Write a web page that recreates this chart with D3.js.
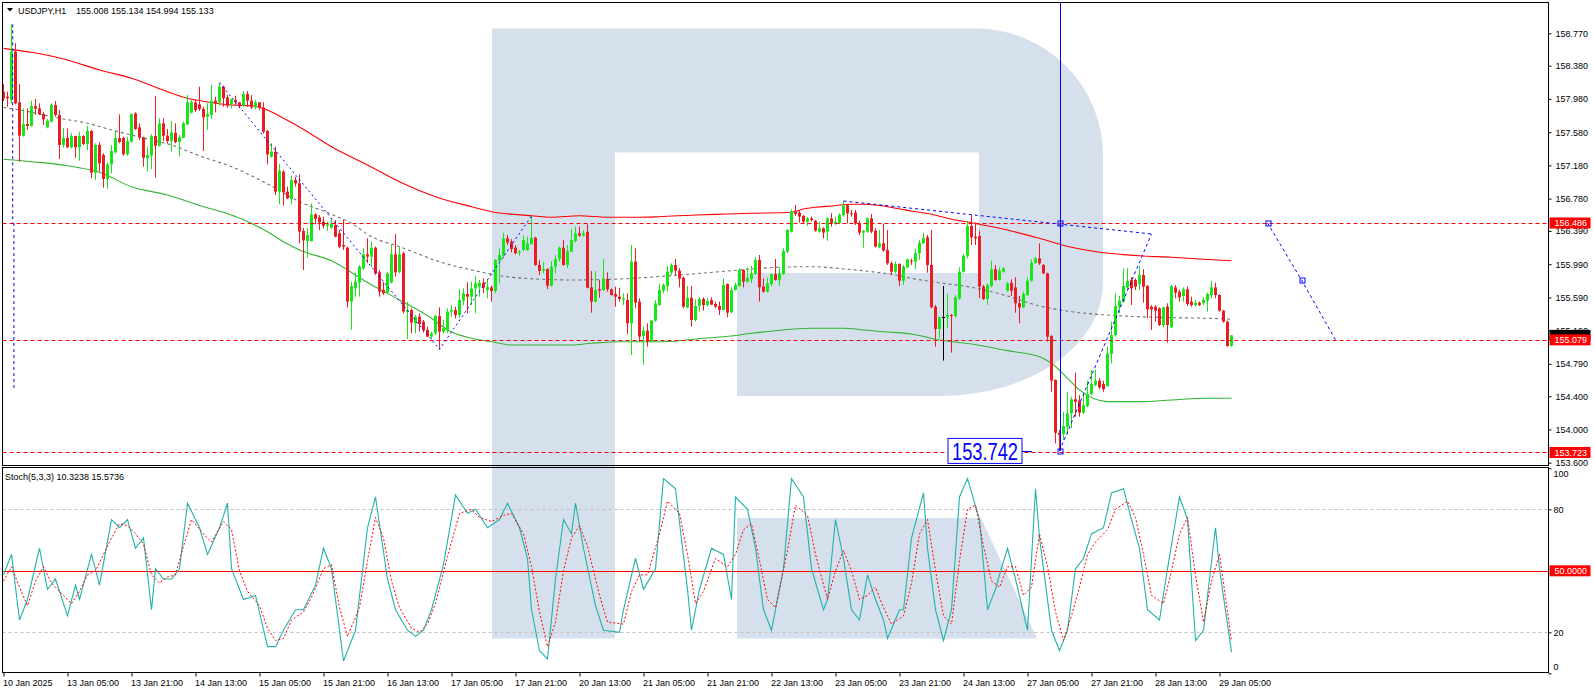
<!DOCTYPE html>
<html><head><meta charset="utf-8">
<script src="https://cdn.jsdelivr.net/npm/d3@7/dist/d3.min.js"></script>
<style>body{margin:0;background:#fff}svg{display:block}text{font-family:"Liberation Sans",Arial,sans-serif;font-size:9px;fill:#000}</style>
</head><body><svg id="c" width="1594" height="694"></svg>
<script>
const symbolTitle = "USDJPY,H1";
const lastBar = [155.008, 155.134, 154.994, 155.133];
const opens = [158.067,158.007,157.967,158.549,157.939,157.537,157.678,157.654,157.894,157.866,157.798,157.638,157.706,157.907,157.786,157.425,157.509,157.397,157.533,157.397,157.533,157.437,157.594,157.092,157.425,157.305,157.016,157.192,157.337,157.509,157.509,157.313,157.465,157.806,157.638,157.517,157.264,157.297,157.533,157.417,157.686,157.537,157.473,157.573,157.461,157.513,157.674,157.814,157.939,157.915,157.858,157.766,157.786,157.959,157.939,158.127,157.999,157.919,157.967,157.939,157.898,158.039,157.959,157.878,157.939,157.878,157.594,157.285,157.345,156.863,157.104,156.863,156.775,157.004,156.963,156.390,156.269,156.269,156.590,156.554,156.502,156.454,156.430,156.462,156.362,156.221,156.189,155.539,155.700,155.768,155.940,156.109,156.081,156.189,155.892,155.680,155.648,155.768,156.109,155.900,156.121,155.419,155.439,155.278,155.359,155.298,155.198,155.118,155.158,155.367,155.178,155.198,155.418,155.438,155.378,155.551,155.631,155.599,155.699,155.719,155.767,155.679,155.711,155.667,156.028,156.093,156.301,156.261,156.189,156.133,156.161,156.161,156.233,156.309,155.980,155.912,155.932,155.731,155.960,156.052,156.189,155.980,156.141,156.269,156.361,156.333,156.381,155.711,155.539,155.691,155.679,155.812,155.687,155.631,155.599,155.559,155.559,155.278,156.021,155.539,155.126,155.190,155.058,155.311,155.499,155.672,155.728,155.888,155.981,155.912,155.828,155.467,155.587,155.319,155.487,155.571,155.499,155.559,155.511,155.487,155.439,155.752,155.411,155.680,155.728,155.921,155.780,155.812,155.872,156.041,155.720,155.660,155.752,155.872,155.800,155.872,156.141,156.382,156.623,156.611,156.571,156.502,156.542,156.514,156.382,156.422,156.382,156.542,156.474,156.490,156.579,156.699,156.603,156.611,156.482,156.370,156.382,156.542,156.394,156.193,156.242,156.161,156.001,155.900,155.993,155.792,155.953,156.033,156.021,156.121,156.242,156.314,155.981,155.479,155.210,155.351,155.351,155.378,155.366,155.579,155.900,156.092,156.450,156.321,156.329,155.719,155.571,155.727,155.928,155.800,155.900,155.671,155.767,155.711,155.519,155.470,155.619,155.791,156.008,156.060,155.980,155.880,155.125,154.596,153.961,153.946,154.034,154.194,154.363,154.347,154.202,154.283,154.427,154.535,154.588,154.547,154.523,154.909,155.137,155.478,155.539,155.711,155.799,155.799,155.751,155.860,155.727,155.478,155.478,155.458,155.258,155.478,155.230,155.711,155.659,155.607,155.687,155.539,155.499,155.527,155.519,155.551,155.619,155.711,155.619,155.430,155.298,155.008];
const highs = [158.159,158.067,158.878,158.649,158.159,157.866,157.866,157.959,157.979,157.927,157.826,157.738,157.927,157.955,157.846,157.626,157.626,157.565,157.537,157.585,157.545,157.658,157.606,157.445,157.457,157.325,157.216,157.425,157.606,157.794,157.525,157.525,157.806,157.818,157.686,157.525,157.405,157.557,158.015,157.746,157.746,157.618,157.714,157.686,157.545,157.706,158.027,157.967,157.967,158.127,157.886,157.927,158.147,158.007,158.175,158.139,158.027,157.987,158.019,157.939,158.075,158.075,158.027,157.967,157.939,157.939,157.606,157.445,157.405,157.196,157.124,156.923,157.056,157.044,157.072,156.422,156.422,156.723,156.602,156.582,156.562,156.502,156.542,156.522,156.402,156.522,156.201,155.780,155.888,155.981,156.181,156.302,156.261,156.201,155.920,155.780,155.900,156.221,156.354,156.201,156.141,155.539,155.459,155.379,155.399,155.318,155.238,155.178,155.379,155.471,155.318,155.459,155.499,155.478,155.691,155.699,155.771,155.779,155.848,155.800,155.820,155.800,155.731,156.052,156.181,156.369,156.341,156.293,156.221,156.161,156.333,156.321,156.570,156.321,156.040,156.020,155.940,156.028,156.101,156.201,156.281,156.221,156.413,156.442,156.442,156.401,156.470,155.908,155.908,155.800,156.052,155.892,155.699,155.719,155.707,155.639,155.639,156.221,156.181,155.579,155.238,155.278,155.319,155.559,155.752,155.760,155.969,156.001,156.053,155.941,155.840,155.728,155.728,155.567,155.591,155.591,155.579,155.591,155.539,155.539,155.820,155.760,155.712,155.768,155.941,155.929,155.953,155.969,156.073,156.101,155.820,155.828,155.880,156.053,155.953,156.181,156.410,156.651,156.703,156.635,156.583,156.555,156.563,156.522,156.502,156.434,156.555,156.603,156.563,156.603,156.751,156.715,156.643,156.643,156.514,156.402,156.555,156.595,156.422,156.402,156.474,156.402,156.021,156.021,156.001,155.981,156.057,156.057,156.181,156.282,156.370,156.342,156.402,155.499,155.359,155.728,155.632,155.390,155.619,155.952,156.113,156.502,156.582,156.490,156.393,155.739,155.759,156.032,155.980,155.952,155.952,155.779,155.808,155.832,155.607,155.659,155.832,156.048,156.080,156.241,155.992,155.888,155.137,154.604,153.994,154.214,154.455,154.395,154.684,154.415,154.435,154.588,154.716,154.716,154.616,154.588,154.997,155.298,155.639,155.607,155.940,155.940,155.832,155.820,155.968,155.928,155.739,155.498,155.498,155.470,155.478,155.519,155.739,155.739,155.687,155.711,155.719,155.599,155.559,155.539,155.591,155.647,155.791,155.767,155.631,155.438,155.310,155.134];
const lows = [157.955,157.886,157.927,157.915,157.224,157.525,157.606,157.646,157.786,157.786,157.666,157.626,157.698,157.766,157.256,157.393,157.393,157.385,157.272,157.236,157.425,157.365,157.024,157.004,157.104,156.911,156.895,157.084,157.325,157.445,157.297,157.297,157.457,157.606,157.485,157.164,157.104,157.136,157.032,157.405,157.473,157.445,157.345,157.445,157.285,157.505,157.666,157.806,157.826,157.834,157.353,157.606,157.738,157.818,157.898,157.886,157.874,157.866,157.907,157.866,157.886,157.886,157.858,157.858,157.846,157.565,157.192,157.272,156.823,156.711,156.695,156.775,156.711,156.923,156.241,155.920,156.069,156.261,156.470,156.402,156.422,156.390,156.418,156.314,156.181,156.161,155.471,155.198,155.599,155.599,155.920,156.001,155.960,155.860,155.599,155.619,155.631,155.760,155.840,155.880,155.399,155.090,155.158,155.158,155.178,155.166,155.110,155.086,155.138,154.965,155.158,155.158,155.358,155.338,155.346,155.499,155.398,155.499,155.398,155.599,155.639,155.579,155.539,155.639,155.759,156.060,156.221,156.133,156.108,156.092,156.149,156.149,156.221,155.972,155.860,155.880,155.691,155.719,155.880,156.020,155.972,155.940,156.133,156.253,156.321,156.321,155.699,155.406,155.531,155.587,155.667,155.659,155.611,155.478,155.539,155.499,155.145,154.897,155.459,155.058,154.777,154.998,155.050,155.299,155.487,155.640,155.660,155.860,155.860,155.712,155.459,155.459,155.238,155.299,155.419,155.431,155.487,155.499,155.459,155.379,155.431,155.351,155.399,155.672,155.720,155.712,155.768,155.760,155.860,155.539,155.648,155.648,155.728,155.792,155.728,155.860,156.121,156.370,156.571,156.490,156.482,156.450,156.502,156.382,156.370,156.302,156.270,156.442,156.462,156.474,156.563,156.482,156.563,156.462,156.342,156.189,156.370,156.362,156.193,156.181,156.141,155.981,155.860,155.880,155.728,155.740,155.941,155.981,155.929,156.041,156.234,155.888,155.459,154.998,155.098,154.829,155.218,154.925,155.350,155.559,155.888,156.060,156.221,156.221,155.579,155.559,155.499,155.711,155.792,155.792,155.888,155.659,155.607,155.406,155.278,155.458,155.607,155.779,155.992,155.980,155.872,155.057,154.455,153.833,153.742,153.873,153.933,154.014,154.154,154.154,154.186,154.267,154.415,154.523,154.483,154.455,154.515,154.796,155.117,155.398,155.527,155.687,155.499,155.679,155.679,155.527,155.338,155.198,155.298,155.246,155.230,155.045,155.218,155.579,155.539,155.539,155.486,155.478,155.486,155.486,155.499,155.418,155.579,155.579,155.418,155.286,154.997,154.994];
const closes = [157.987,157.987,158.549,157.927,157.537,157.678,157.654,157.894,157.862,157.798,157.734,157.718,157.907,157.786,157.425,157.509,157.397,157.533,157.397,157.533,157.437,157.594,157.092,157.425,157.204,157.016,157.192,157.353,157.509,157.461,157.313,157.473,157.798,157.618,157.517,157.272,157.305,157.533,157.417,157.686,157.537,157.473,157.577,157.461,157.517,157.686,157.939,157.939,157.846,157.858,157.758,157.798,157.959,157.927,158.127,157.987,157.898,157.975,157.939,157.898,158.039,157.959,157.878,157.939,157.878,157.585,157.313,157.345,156.863,157.116,156.855,156.783,157.004,156.963,156.382,156.277,156.341,156.590,156.534,156.494,156.454,156.470,156.482,156.322,156.201,156.201,155.539,155.728,155.780,155.960,156.109,156.081,156.189,155.880,155.660,155.640,155.880,156.109,155.892,156.109,155.419,155.439,155.286,155.359,155.270,155.198,155.118,155.158,155.367,155.178,155.218,155.419,155.438,155.378,155.559,155.639,155.599,155.699,155.759,155.767,155.707,155.719,155.667,156.040,156.101,156.301,156.253,156.173,156.121,156.141,156.281,156.241,156.309,155.980,155.908,155.932,155.731,155.960,156.052,156.189,155.980,156.149,156.281,156.361,156.333,156.361,155.707,155.539,155.679,155.675,155.820,155.687,155.619,155.599,155.571,155.579,155.278,156.021,155.527,155.118,155.190,155.058,155.311,155.519,155.680,155.740,155.900,155.981,155.912,155.816,155.479,155.587,155.319,155.487,155.571,155.499,155.547,155.503,155.479,155.439,155.740,155.407,155.680,155.740,155.921,155.780,155.828,155.880,156.041,155.712,155.660,155.760,155.872,155.800,155.880,156.149,156.402,156.623,156.595,156.563,156.502,156.542,156.522,156.394,156.422,156.370,156.542,156.482,156.502,156.583,156.699,156.603,156.595,156.482,156.370,156.394,156.542,156.382,156.201,156.242,156.153,156.001,155.900,155.993,155.792,155.961,156.049,156.021,156.121,156.250,156.302,155.981,155.471,155.210,155.351,155.351,155.379,155.366,155.591,155.900,156.092,156.450,156.313,156.301,155.719,155.571,155.739,155.928,155.800,155.912,155.940,155.759,155.671,155.519,155.470,155.631,155.791,156.008,156.060,156.000,155.880,155.117,154.588,153.961,153.933,154.042,154.194,154.363,154.335,154.202,154.295,154.427,154.547,154.588,154.507,154.483,154.917,155.137,155.486,155.551,155.727,155.791,155.699,155.719,155.860,155.719,155.446,155.446,155.430,155.258,155.470,155.258,155.727,155.647,155.591,155.687,155.511,155.499,155.527,155.499,155.559,155.631,155.711,155.619,155.430,155.298,155.005,155.133];

const redMA = [[0,158.589],[7,158.541],[16,158.449],[24,158.328],[32,158.228],[41,158.067],[46,157.987],[51,157.943],[57,157.907],[62,157.898],[66,157.847],[70,157.747],[74,157.642],[82,157.405],[91,157.184],[99,156.983],[108,156.803],[117,156.682],[122,156.622],[132,156.574],[137,156.555],[144,156.574],[151,156.555],[159,156.555],[164,156.562],[173,156.582],[181,156.594],[187,156.603],[197,156.615],[200,156.655],[203,156.675],[207,156.691],[212,156.711],[215,156.711],[220,156.691],[223,156.663],[227,156.631],[232,156.591],[237,156.531],[242,156.490],[251,156.402],[259,156.302],[267,156.193],[274,156.133],[284,156.092],[292,156.073],[300,156.049],[307,156.032]];
const greenMA = [[0,157.253],[7,157.224],[16,157.176],[24,157.097],[32,156.923],[41,156.823],[49,156.697],[57,156.582],[62,156.482],[66,156.381],[70,156.261],[74,156.161],[82,156.031],[91,155.770],[99,155.559],[107,155.339],[111,155.198],[117,155.098],[122,155.057],[127,155.017],[142,155.017],[147,155.038],[154,155.057],[165,155.057],[175,155.098],[182,155.125],[187,155.158],[193,155.189],[202,155.218],[210,155.218],[215,155.198],[220,155.177],[227,155.150],[234,155.077],[242,155.029],[251,154.949],[259,154.876],[262,154.797],[266,154.616],[269,154.476],[276,154.335],[284,154.335],[292,154.355],[301,154.376],[307,154.376]];
const grayMA = [[0,157.877],[4,157.847],[14,157.747],[21,157.686],[28,157.594],[37,157.485],[42,157.425],[49,157.295],[57,157.164],[66,156.956],[74,156.743],[82,156.591],[87,156.482],[92,156.321],[99,156.201],[109,156.020],[121,155.880],[124,155.852],[133,155.812],[142,155.800],[154,155.812],[169,155.860],[182,155.912],[194,155.953],[202,155.960],[211,155.929],[217,155.900],[223,155.860],[227,155.820],[235,155.760],[242,155.712],[251,155.607],[259,155.487],[267,155.418],[276,155.378],[284,155.358],[292,155.346],[301,155.339],[307,155.327]];

const stochK = [[0,48],[2,58],[4,26],[6,36],[9,61],[11,41],[13,46],[16,28],[18,43],[19,36],[22,58],[24,43],[27,75],[29,71],[31,75],[33,61],[35,66],[37,31],[38,51],[40,46],[42,46],[44,51],[46,83],[49,71],[51,58],[54,71],[56,83],[57,51],[60,36],[63,38],[66,13],[68,13],[70,21],[73,31],[75,31],[78,43],[80,61],[82,51],[85,6],[88,21],[91,71],[93,86],[96,46],[98,31],[101,21],[103,18],[105,21],[107,31],[110,53],[113,87],[116,78],[118,80],[121,71],[124,75],[126,83],[129,71],[131,56],[132,31],[134,11],[136,7],[138,46],[140,75],[142,68],[143,83],[145,61],[148,33],[150,21],[154,20],[155,31],[158,56],[160,41],[163,51],[165,95],[168,90],[171,41],[172,21],[174,41],[177,61],[180,58],[182,36],[183,86],[186,80],[188,61],[190,31],[192,21],[195,51],[197,95],[200,86],[202,51],[205,31],[206,36],[208,75],[210,56],[212,31],[214,26],[216,48],[218,36],[220,26],[221,17],[224,31],[225,31],[227,66],[230,88],[231,61],[233,31],[235,16],[237,31],[239,86],[241,95],[244,75],[246,31],[248,41],[249,48],[251,61],[253,46],[256,21],[258,90],[259,66],[262,21],[264,11],[266,21],[268,51],[270,56],[272,68],[275,71],[277,88],[280,90],[282,75],[284,61],[286,31],[289,26],[291,51],[294,86],[296,75],[298,16],[300,21],[303,71],[304,51],[307,10.3238]];
const stochD = [[0,45],[2,52],[4,42],[6,33],[8,45],[10,52],[12,44],[14,40],[17,34],[19,40],[21,48],[23,50],[25,58],[27,66],[29,73],[31,72],[33,68],[35,63],[37,48],[39,44],[41,47],[43,48],[45,62],[47,75],[50,68],[52,64],[55,74],[57,70],[59,50],[61,40],[64,33],[66,22],[68,16],[70,17],[72,26],[75,30],[77,37],[80,51],[82,53],[84,32],[86,18],[89,32],[91,55],[93,76],[95,66],[97,45],[99,32],[102,22],[104,20],[106,24],[108,34],[111,57],[114,78],[117,80],[119,76],[122,74],[125,77],[127,78],[130,68],[132,52],[134,30],[136,13],[138,25],[140,50],[142,66],[144,72],[146,62],[149,38],[151,25],[155,24],[157,40],[159,48],[161,48],[164,68],[166,84],[169,78],[171,58],[173,34],[175,40],[178,56],[181,52],[183,58],[185,70],[187,73],[189,55],[191,36],[193,32],[196,60],[198,82],[201,77],[203,58],[206,36],[208,50],[210,60],[212,50],[214,36],[216,38],[218,42],[220,32],[222,24],[225,28],[227,44],[229,68],[231,75],[233,50],[235,28],[237,24],[239,55],[241,80],[243,82],[245,62],[247,45],[249,42],[251,52],[253,52],[255,38],[257,42],[259,68],[261,52],[263,30],[265,16],[267,28],[269,42],[271,58],[273,64],[276,70],[278,80],[281,84],[283,76],[285,58],[287,38],[290,34],[292,50],[294,68],[296,76],[298,48],[300,25],[302,45],[304,58],[306,30],[307,15.5736]];

const priceTicks = [158.770,158.380,157.980,157.580,157.180,156.780,156.390,155.990,155.590,155.190,154.790,154.400,154.000,153.600];
const stochTicks = [100,80,20,0];
const timeTickIdx = [0,16,32,48,64,80,96,112,128,144,160,176,192,208,224,240,256,272,288,304];
const timeLabels = ["10 Jan 2025","13 Jan 05:00","13 Jan 21:00","14 Jan 13:00","15 Jan 05:00","15 Jan 21:00","16 Jan 13:00","17 Jan 05:00","17 Jan 21:00","20 Jan 13:00","21 Jan 05:00","21 Jan 21:00","22 Jan 13:00","23 Jan 05:00","23 Jan 21:00","24 Jan 13:00","27 Jan 05:00","27 Jan 21:00","28 Jan 13:00","29 Jan 05:00"];
const hLevels = [156.486,155.079,153.723];
const lowMark = {i:264, price:153.742};
const zigzag = [[54,158.175],[109,154.965],[132,156.570]];
const trendTop = [[210,156.751],[287,156.354]];
const trendUp = [[264,153.742],[287,156.354]];
const leftDash1 = [[2.3,158.878],[2.3,156.486]];
const leftDash2 = [[2.6,156.486],[2.6,154.50]];
const forecast = [[316,156.486],[324.5,155.80],[333,155.079]];

const svg = d3.select("#c");
const L=2.5, R=1548.5, T=2.5, MB=465.5, ST=467.5, SB=672.5;
const x = d3.scaleLinear().domain([0,307]).range([3.5,1231.5]);
const y = d3.scaleLinear().domain([153.6,158.77]).range([462.7,33.3]);
const ys = d3.scaleLinear().domain([0,100]).range([673.3,468.3]);

svg.append("rect").attr("width",1594).attr("height",694).attr("fill","#fff");
const defs = svg.append("defs");
defs.append("clipPath").attr("id","cm").append("rect").attr("x",L).attr("y",T).attr("width",R-L).attr("height",MB-T);
defs.append("clipPath").attr("id","cs").append("rect").attr("x",L).attr("y",ST).attr("width",R-L).attr("height",SB-ST);

// watermark logo
const wm = svg.append("g").attr("fill","#d6e0ec");
wm.append("rect").attr("x",492).attr("y",28.5).attr("width",123).attr("height",610);
wm.append("path").attr("d","M615 28.5H976A127 127 0 0 1 1103 155.5V283A163 113 0 0 1 940 396H737V273H979V152.5H615Z");
wm.append("path").attr("d","M737 518H981L1037 638.5H737Z");

// stochastic panel
const gs = svg.append("g").attr("clip-path","url(#cs)");
[20,80].forEach(v=>gs.append("line").attr("x1",L).attr("x2",R).attr("y1",Math.round(ys(v))+0.5).attr("y2",Math.round(ys(v))+0.5).attr("stroke","#c0c0c0").attr("stroke-dasharray","3,3"));
gs.append("line").attr("x1",L).attr("x2",R).attr("y1",Math.round(ys(50))+0.5).attr("y2",Math.round(ys(50))+0.5).attr("stroke","#ff0000");
const sl = d3.line().x(d=>x(d[0])).y(d=>ys(d[1]));
gs.append("path").attr("d",sl(stochK)).attr("fill","none").attr("stroke","#20b2aa").attr("stroke-width",1.1);
gs.append("path").attr("d",sl(stochD)).attr("fill","none").attr("stroke","#ff0000").attr("stroke-dasharray","2,2");

// main panel
const gm = svg.append("g").attr("clip-path","url(#cm)");
const ml = d3.line().x(d=>x(d[0])).y(d=>y(d[1])).curve(d3.curveMonotoneX);
gm.append("path").attr("d",ml(redMA)).attr("fill","none").attr("stroke","#ff0000").attr("stroke-width",1.1);
gm.append("path").attr("d",ml(greenMA)).attr("fill","none").attr("stroke","#32b432").attr("stroke-width",1.1);
gm.append("path").attr("d",ml(grayMA)).attr("fill","none").attr("stroke","#707070").attr("stroke-width",1.1).attr("stroke-dasharray","3,3");

const bars = d3.range(opens.length).map(i=>({i,o:opens[i],h:highs[i],l:lows[i],c:closes[i]}));
const col = d=> d.c>d.o ? "#19e619" : (d.c<d.o ? "#ec1c24" : "#000000");
const cg = gm.append("g");
cg.selectAll("line").data(bars).join("line")
  .attr("x1",d=>x(d.i)).attr("x2",d=>x(d.i)).attr("y1",d=>y(d.h)).attr("y2",d=>y(d.l)).attr("stroke",col);
cg.selectAll("rect").data(bars.filter(d=>d.o!==d.c)).join("rect")
  .attr("x",d=>x(d.i)-1.5).attr("width",3)
  .attr("y",d=>y(Math.max(d.o,d.c))).attr("height",d=>Math.max(1,y(Math.min(d.o,d.c))-y(Math.max(d.o,d.c)))).attr("fill",col);
cg.selectAll("line.doji").data(bars.filter(d=>d.o===d.c)).join("line").attr("class","doji")
  .attr("x1",d=>x(d.i)-1.5).attr("x2",d=>x(d.i)+1.5).attr("y1",d=>Math.round(y(d.o))+0.5).attr("y2",d=>Math.round(y(d.o))+0.5).attr("stroke","#000");

// horizontal levels
hLevels.forEach(p=>gm.append("line").attr("x1",L).attr("x2",R).attr("y1",Math.round(y(p))+0.5).attr("y2",Math.round(y(p))+0.5).attr("stroke","#ff0000").attr("stroke-dasharray","4,3"));

// blue objects
const bl = d3.line().x(d=>x(d[0])).y(d=>y(d[1]));
const blue="#0000ff";
gm.append("path").attr("d",bl(zigzag)).attr("fill","none").attr("stroke",blue).attr("stroke-dasharray","2,3");
[trendTop,trendUp,leftDash1,leftDash2,forecast].forEach(p=>gm.append("path").attr("d",bl(p)).attr("fill","none").attr("stroke",blue).attr("stroke-dasharray","3,3"));
gm.append("line").attr("x1",Math.round(x(lowMark.i))+0.5).attr("x2",Math.round(x(lowMark.i))+0.5).attr("y1",T).attr("y2",y(lowMark.price)).attr("stroke",blue);
[[lowMark.i,hLevels[0]],[lowMark.i,lowMark.price],forecast[0],forecast[1]].forEach(p=>gm.append("rect").attr("x",Math.round(x(p[0]))-2).attr("y",Math.round(y(p[1]))-2).attr("width",5).attr("height",5).attr("fill","none").attr("stroke",blue));
// low label
const lx = x(lowMark.i)-37.5, lyc = y(lowMark.price);
gm.append("line").attr("x1",lx).attr("x2",lx+10).attr("y1",Math.round(lyc)+0.5).attr("y2",Math.round(lyc)+0.5).attr("stroke",blue);
gm.append("rect").attr("x",lx-74).attr("y",lyc-12.5).attr("width",74).attr("height",25).attr("fill","#fff").attr("stroke",blue);
gm.append("text").attr("x",lx-70).attr("y",lyc+9).text(lowMark.price.toFixed(3)).style("font-size","24px").style("fill",blue).attr("textLength",66).attr("lengthAdjust","spacingAndGlyphs");

// frames
const fr = svg.append("g").attr("fill","none").attr("stroke","#000");
fr.append("rect").attr("x",L).attr("y",T).attr("width",R-L).attr("height",MB-T);
fr.append("rect").attr("x",L).attr("y",ST).attr("width",R-L).attr("height",SB-ST);

// right price axis
const ax = svg.append("g").attr("transform",`translate(${R},0)`)
  .call(d3.axisRight(y).tickValues(priceTicks).tickSize(3).tickPadding(4).tickFormat(d3.format(".3f")));
ax.select(".domain").remove();
ax.selectAll("text").style("font-size","9px").attr("fill","#000");
ax.selectAll("line").attr("stroke","#000");
const lbl = (yy,txt,bg)=>{const g=svg.append("g");g.append("rect").attr("x",R+1).attr("y",yy-5.5).attr("width",41).attr("height",11).attr("fill",bg);if(txt)g.append("text").attr("x",R+6).attr("y",yy+3.3).text(txt).style("fill","#fff");};
// current bid marker (covered by the 155.079 level label, as in the terminal)
lbl(y(lastBar[3]),"",'#000');
hLevels.forEach(p=>lbl(y(p),p.toFixed(3),"#ff0000"));

// stochastic axis
const sx = svg.append("g").attr("transform",`translate(${R},0)`)
  .call(d3.axisRight(ys).tickValues(stochTicks).tickSize(3).tickPadding(2).tickFormat(d3.format("d")));
sx.select(".domain").remove();
sx.selectAll("text").style("font-size","9px").attr("fill","#000").attr("dy",d=>d===100?"0.95em":(d===0?"-0.45em":"0.32em"));
sx.selectAll("line").attr("stroke","#000");
lbl(ys(50),"50.0000","#ff0000");

// time axis
const tx = svg.append("g").attr("transform",`translate(0,${SB})`)
  .call(d3.axisBottom(x).tickValues(timeTickIdx).tickSize(4).tickPadding(3).tickFormat((d,k)=>timeLabels[k]));
tx.select(".domain").remove();
tx.selectAll("text").style("font-size","9px").attr("fill","#000").attr("text-anchor","start").attr("dx","-1");
tx.selectAll("line").attr("stroke","#000");

// headers
svg.append("path").attr("d","M7 8H13L10 11.5Z").attr("fill","#000");
svg.append("text").attr("x",18).attr("y",14).text(symbolTitle);
svg.append("text").attr("x",76).attr("y",14).text(lastBar.map(v=>v.toFixed(3)).join(" "));
const lastK = stochK[stochK.length-1][1], lastD = stochD[stochD.length-1][1];
svg.append("text").attr("x",5).attr("y",480).text(`Stoch(5,3,3) ${lastK.toFixed(4)} ${lastD.toFixed(4)}`);
</script></body></html>
